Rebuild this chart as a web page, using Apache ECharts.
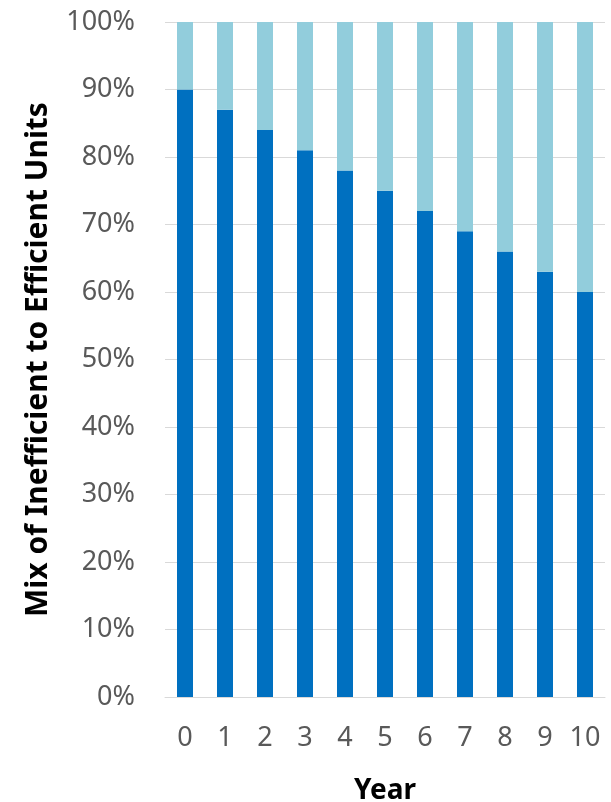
<!DOCTYPE html>
<html><head><meta charset="utf-8">
<script src="https://cdn.jsdelivr.net/npm/echarts@6/dist/echarts.min.js"></script>
<style>html,body{margin:0;padding:0;background:#fff}#c{width:611px;height:802px}</style>
</head><body><div id="c"></div>
<script>
const years = ['0','1','2','3','4','5','6','7','8','9','10'];
const inefficient = [90,87,84,81,78,75,72,69,66,63,60];
const efficient = [10,13,16,19,22,25,28,31,34,37,40];
const chart = echarts.init(document.getElementById('c'));
const font = 'Noto Sans';
chart.setOption({
  animation: false,
  grid: {left: 165, right: 6, top: 22, bottom: 105, containLabel: false, outerBoundsMode: 'none'},
  xAxis: {
    type: 'category', data: years,
    axisLine: {lineStyle: {color: '#D9D9D9', width: 1}},
    axisTick: {show: false},
    axisLabel: {color: '#595959', fontFamily: font, fontSize: 27, margin: 28, interval: 0, hideOverlap: false},
    name: 'Year', nameLocation: 'middle', nameGap: 80,
    nameTextStyle: {color: '#000', fontFamily: font, fontSize: 28, fontWeight: 'bold'}
  },
  yAxis: {
    type: 'value', min: 0, max: 100, interval: 10,
    axisLine: {show: false}, axisTick: {show: false},
    splitLine: {lineStyle: {color: '#D9D9D9', width: 1}},
    axisLabel: {color: '#595959', fontFamily: font, fontSize: 27, margin: 30, formatter: '{value}%'},
    name: 'Mix of Inefficient to Efficient Units', nameLocation: 'middle', nameGap: 112,
    nameTextStyle: {color: '#000', fontFamily: font, fontSize: 30, fontWeight: 'bold'}
  },
  series: [
    {type: 'bar', stack: 's', data: inefficient, barWidth: '40%', itemStyle: {color: '#0070C0'}},
    {type: 'bar', stack: 's', data: efficient, barWidth: '40%', itemStyle: {color: '#92CDDC'}}
  ]
});
</script></body></html>
